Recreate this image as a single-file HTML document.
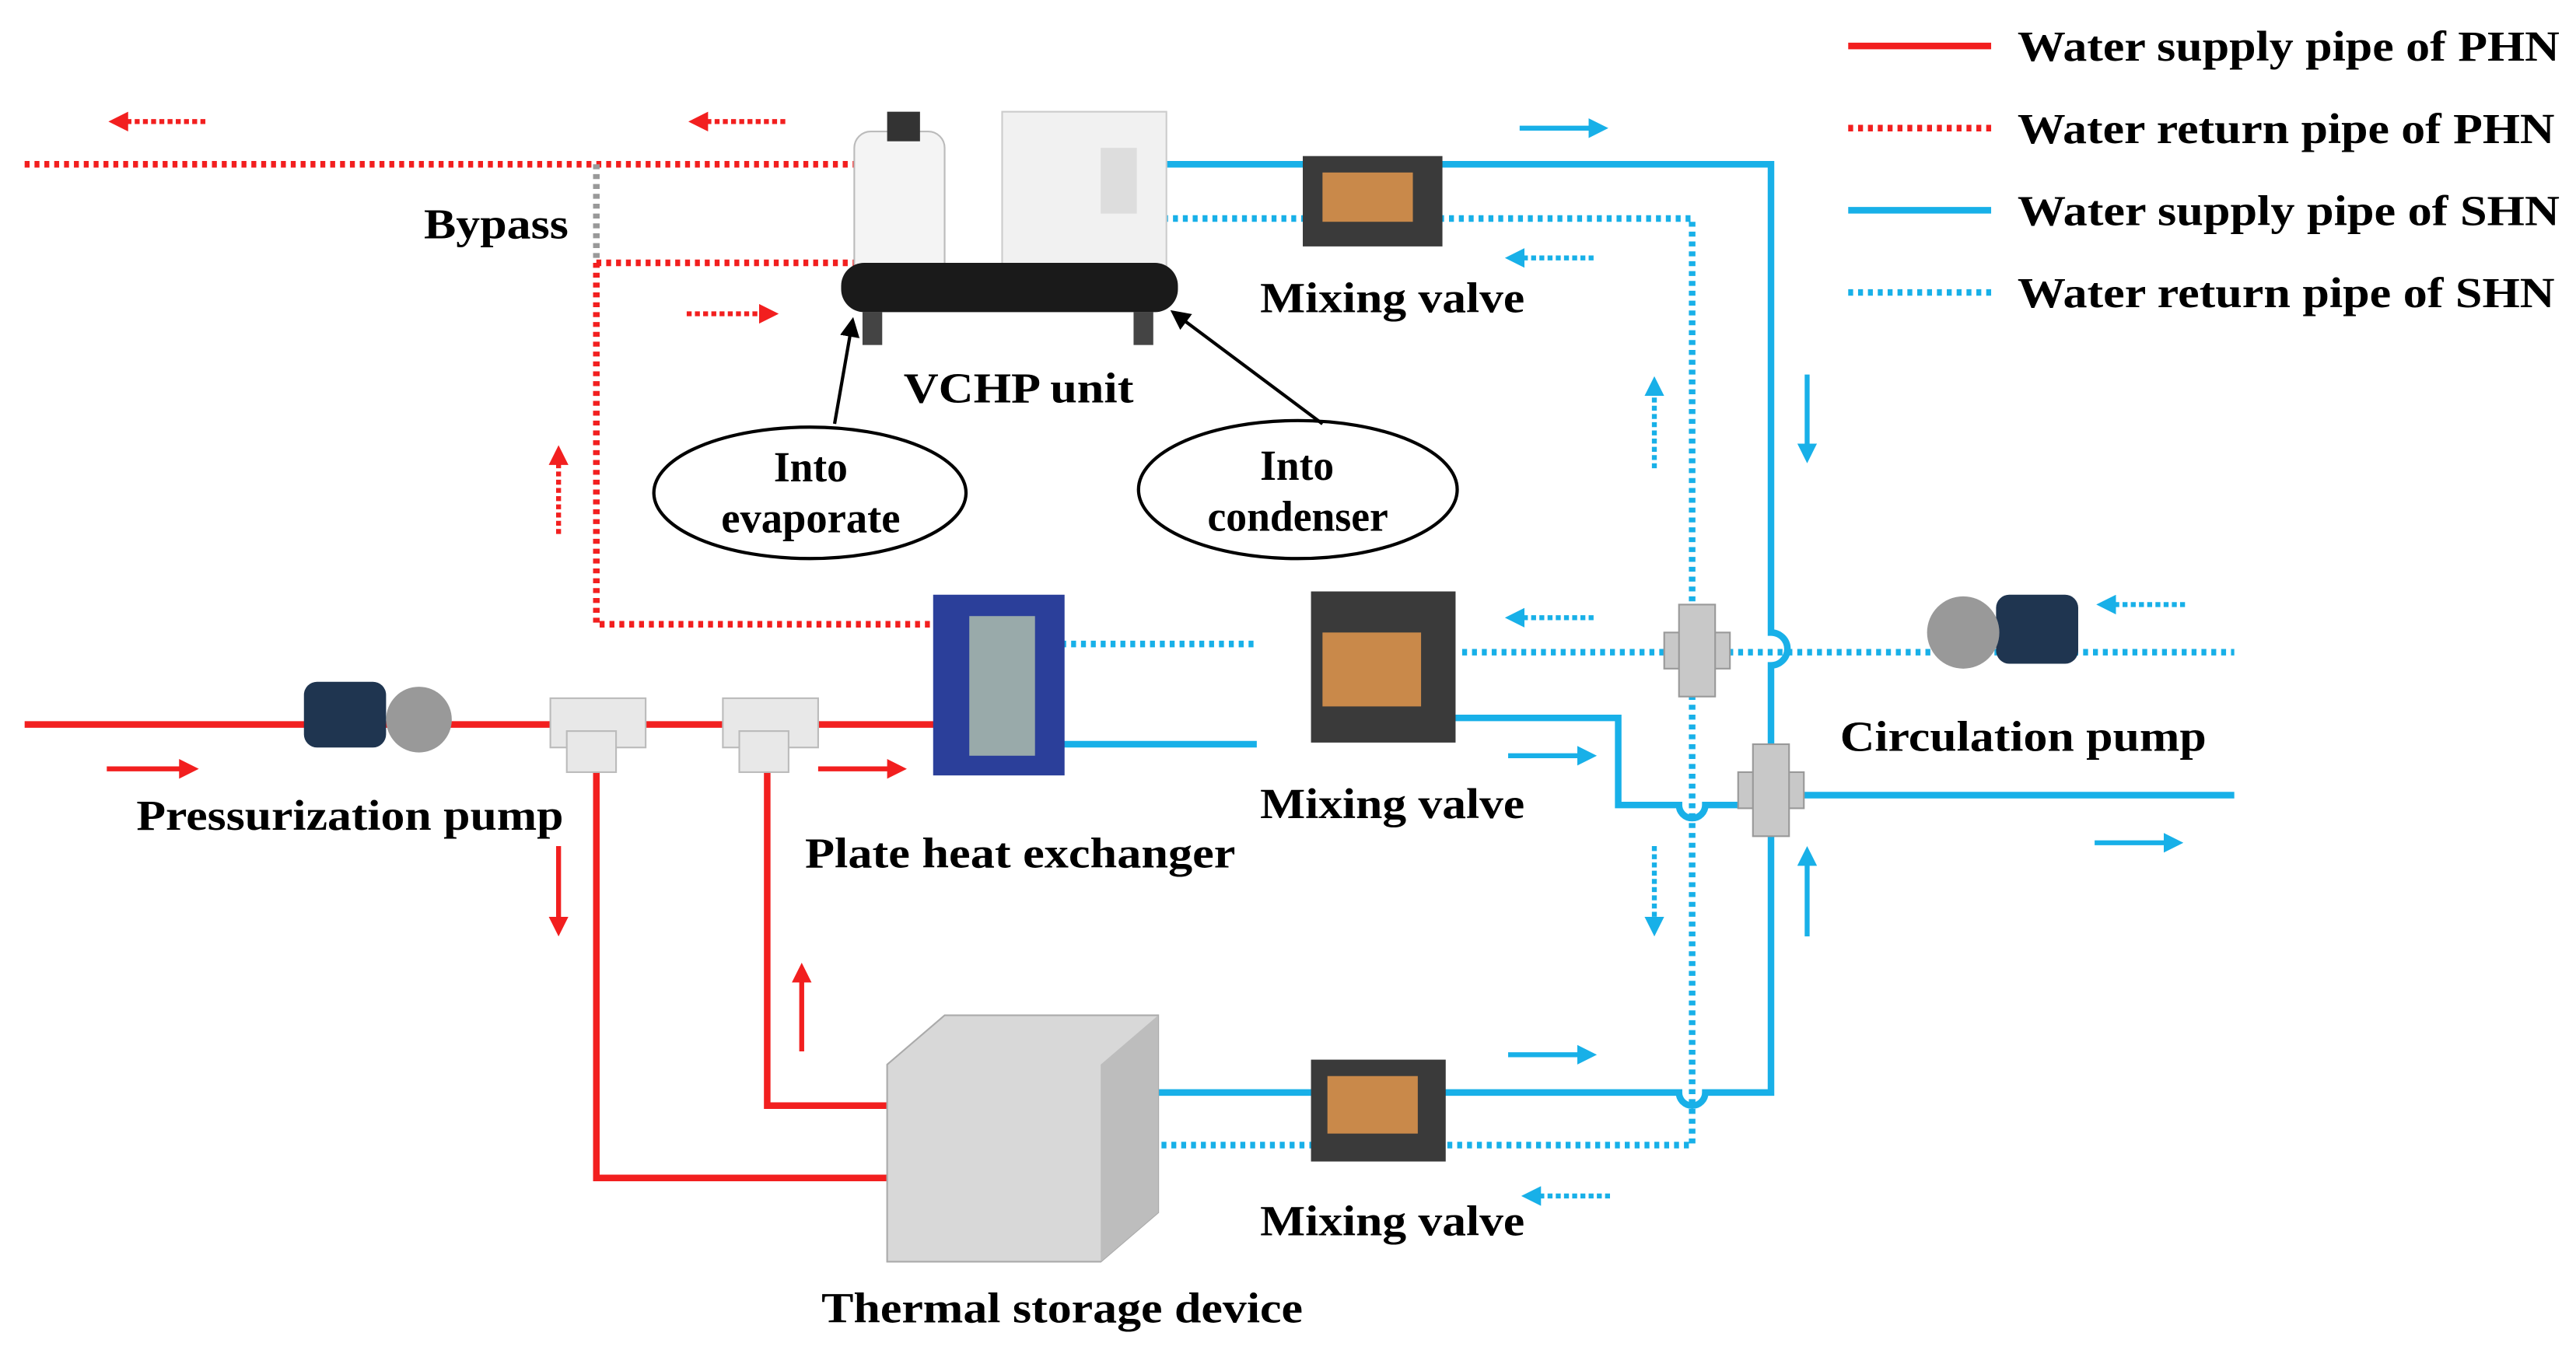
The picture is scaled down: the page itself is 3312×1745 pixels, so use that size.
<!DOCTYPE html>
<html><head><meta charset="utf-8"><style>
html,body{margin:0;padding:0;background:#fff;}
svg{display:block;}
text{font-family:"Liberation Serif",serif;font-weight:bold;font-size:26px;fill:#000;}
</style></head><body>
<svg width="3312" height="1745" viewBox="0 0 1568 826" preserveAspectRatio="none" xmlns="http://www.w3.org/2000/svg">
<defs>
<marker id="ar" markerWidth="4" markerHeight="4" refX="2" refY="2" orient="auto" markerUnits="strokeWidth"><path d="M0,0 L4,2 L0,4 Z" fill="#f21f1f"/></marker>
<marker id="ab" markerWidth="4" markerHeight="4" refX="2" refY="2" orient="auto" markerUnits="strokeWidth"><path d="M0,0 L4,2 L0,4 Z" fill="#18b0e8"/></marker>
<marker id="ak" markerWidth="6" markerHeight="6" refX="5" refY="3" orient="auto" markerUnits="strokeWidth"><path d="M0,0 L6,3 L0,6 Z" fill="#000"/></marker>
</defs>
<g fill="none" stroke-linecap="butt">
<line x1="1125" y1="28" x2="1212" y2="28" stroke="#f21f1f" stroke-width="4"/>
<line x1="1125" y1="78" x2="1212" y2="78" stroke="#f21f1f" stroke-width="4" stroke-dasharray="3,3"/>
<line x1="1125" y1="128" x2="1212" y2="128" stroke="#18b0e8" stroke-width="4"/>
<line x1="1125" y1="178" x2="1212" y2="178" stroke="#18b0e8" stroke-width="4" stroke-dasharray="3,3"/>

<g stroke="#f21f1f" stroke-width="4" stroke-dasharray="3,3">
<path d="M15,100 H530"/>
<path d="M363,160 H530"/>
<path d="M363,160 V380 H575"/>
</g>
<line x1="363" y1="100" x2="363" y2="160" stroke="#999" stroke-width="4" stroke-dasharray="3,3"/>
<g stroke="#f21f1f" stroke-width="3" stroke-dasharray="3,2">
<line x1="125" y1="74" x2="72" y2="74" marker-end="url(#ar)"/>
<line x1="478" y1="74" x2="425" y2="74" marker-end="url(#ar)"/>
<line x1="418" y1="191" x2="468" y2="191" marker-end="url(#ar)"/>
<line x1="340" y1="325" x2="340" y2="277" marker-end="url(#ar)"/>
</g>
<g stroke="#f21f1f" stroke-width="4">
<path d="M15,441 H575"/>
<path d="M363,465 V717 H545"/>
<path d="M467,465 V673 H545"/>
</g>
<g stroke="#f21f1f" stroke-width="3">
<line x1="65" y1="468" x2="115" y2="468" marker-end="url(#ar)"/>
<line x1="498" y1="468" x2="546" y2="468" marker-end="url(#ar)"/>
<line x1="340" y1="515" x2="340" y2="564" marker-end="url(#ar)"/>
<line x1="488" y1="640" x2="488" y2="592" marker-end="url(#ar)"/>
</g>

<g stroke="#18b0e8" stroke-width="4">
<path d="M690,100 H1078 V385 A10,10 0 0 1 1078,405 V665 H1038 A8,8 0 0 1 1022,665 H705"/>
<path d="M600,453 H765"/>
<path d="M870,437 H985 V490 H1022 A8,8 0 0 0 1038,490 H1060"/>
<path d="M1078,484 H1360"/>
</g>
<g stroke="#18b0e8" stroke-width="4" stroke-dasharray="3,3">
<path d="M690,133 H1030 V697 H705"/>
<path d="M640,392 H765"/>
<path d="M890,397 H1360"/>
</g>
<g stroke="#18b0e8" stroke-width="3">
<line x1="925" y1="78" x2="973" y2="78" marker-end="url(#ab)"/>
<line x1="918" y1="460" x2="966" y2="460" marker-end="url(#ab)"/>
<line x1="918" y1="642" x2="966" y2="642" marker-end="url(#ab)"/>
<line x1="1275" y1="513" x2="1323" y2="513" marker-end="url(#ab)"/>
<line x1="1100" y1="228" x2="1100" y2="276" marker-end="url(#ab)"/>
<line x1="1100" y1="570" x2="1100" y2="521" marker-end="url(#ab)"/>
</g>
<g stroke="#18b0e8" stroke-width="3" stroke-dasharray="3,2">
<line x1="970" y1="157" x2="922" y2="157" marker-end="url(#ab)"/>
<line x1="970" y1="376" x2="922" y2="376" marker-end="url(#ab)"/>
<line x1="980" y1="728" x2="932" y2="728" marker-end="url(#ab)"/>
<line x1="1330" y1="368" x2="1282" y2="368" marker-end="url(#ab)"/>
<line x1="1007" y1="285" x2="1007" y2="235" marker-end="url(#ab)"/>
<line x1="1007" y1="515" x2="1007" y2="564" marker-end="url(#ab)"/>
</g>
</g>

<g>
<rect x="610" y="68" width="100" height="100" fill="#f1f1f1" stroke="#ccc"/>
<rect x="670" y="90" width="22" height="40" fill="#ddd"/>
<rect x="520" y="80" width="55" height="90" rx="10" fill="#f4f4f4" stroke="#bbb"/>
<rect x="540" y="68" width="20" height="18" fill="#333"/>
<rect x="512" y="160" width="205" height="30" rx="14" fill="#1a1a1a"/>
<rect x="525" y="190" width="12" height="20" fill="#444"/>
<rect x="690" y="190" width="12" height="20" fill="#444"/>
</g>
<ellipse cx="493" cy="300" rx="95" ry="40" fill="#fff" stroke="#000" stroke-width="2"/>
<ellipse cx="790" cy="298" rx="97" ry="42" fill="#fff" stroke="#000" stroke-width="2"/>
<line x1="508" y1="258" x2="519" y2="195" stroke="#000" stroke-width="2" marker-end="url(#ak)"/>
<line x1="805" y1="258" x2="714" y2="190" stroke="#000" stroke-width="2" marker-end="url(#ak)"/>

<g>
<rect x="793" y="95" width="85" height="55" fill="#3a3a3a"/><rect x="805" y="105" width="55" height="30" fill="#c9894a"/>
<rect x="798" y="360" width="88" height="92" fill="#3a3a3a"/><rect x="805" y="385" width="60" height="45" fill="#c9894a"/>
<rect x="798" y="645" width="82" height="62" fill="#3a3a3a"/><rect x="808" y="655" width="55" height="35" fill="#c9894a"/>
</g>
<rect x="568" y="362" width="80" height="110" fill="#2b3f9a"/>
<rect x="590" y="375" width="40" height="85" fill="#9aa"/>
<g>
<rect x="185" y="415" width="50" height="40" rx="8" fill="#1f3550"/><circle cx="255" cy="438" r="20" fill="#999"/>
<rect x="1215" y="362" width="50" height="42" rx="8" fill="#1f3550"/><circle cx="1195" cy="385" r="22" fill="#999"/>
</g>
<g fill="#e8e8e8" stroke="#bbb">
<rect x="335" y="425" width="58" height="30"/><rect x="345" y="445" width="30" height="25"/>
<rect x="440" y="425" width="58" height="30"/><rect x="450" y="445" width="30" height="25"/>
</g>
<g fill="#c8c8c8" stroke="#999">
<rect x="1013" y="385" width="40" height="22"/><rect x="1022" y="368" width="22" height="56"/>
<rect x="1058" y="470" width="40" height="22"/><rect x="1067" y="453" width="22" height="56"/>
</g>
<polygon points="540,648 575,618 705,618 705,738 670,768 540,768" fill="#d8d8d8" stroke="#aaa"/>
<polygon points="670,648 705,618 705,738 670,768" fill="#bdbdbd"/>

<text x="1228" y="37" textLength="330" lengthAdjust="spacingAndGlyphs">Water supply pipe of PHN</text>
<text x="1228" y="87" textLength="327" lengthAdjust="spacingAndGlyphs">Water return pipe of PHN</text>
<text x="1228" y="137" textLength="330" lengthAdjust="spacingAndGlyphs">Water supply pipe of SHN</text>
<text x="1228" y="187" textLength="327" lengthAdjust="spacingAndGlyphs">Water return pipe of SHN</text>
<text x="258" y="145" textLength="88" lengthAdjust="spacingAndGlyphs">Bypass</text>
<text x="767" y="190" textLength="161" lengthAdjust="spacingAndGlyphs">Mixing valve</text>
<text x="550" y="245" textLength="140" lengthAdjust="spacingAndGlyphs">VCHP unit</text>
<text x="471" y="293" textLength="45" lengthAdjust="spacingAndGlyphs">Into</text>
<text x="439" y="324" textLength="109" lengthAdjust="spacingAndGlyphs">evaporate</text>
<text x="767" y="292" textLength="45" lengthAdjust="spacingAndGlyphs">Into</text>
<text x="735" y="323" textLength="110" lengthAdjust="spacingAndGlyphs">condenser</text>
<text x="767" y="498" textLength="161" lengthAdjust="spacingAndGlyphs">Mixing valve</text>
<text x="490" y="528" textLength="262" lengthAdjust="spacingAndGlyphs">Plate heat exchanger</text>
<text x="83" y="505" textLength="260" lengthAdjust="spacingAndGlyphs">Pressurization pump</text>
<text x="1120" y="457" textLength="223" lengthAdjust="spacingAndGlyphs">Circulation pump</text>
<text x="767" y="752" textLength="161" lengthAdjust="spacingAndGlyphs">Mixing valve</text>
<text x="500" y="805" textLength="293" lengthAdjust="spacingAndGlyphs">Thermal storage device</text>
</svg>
</body></html>
